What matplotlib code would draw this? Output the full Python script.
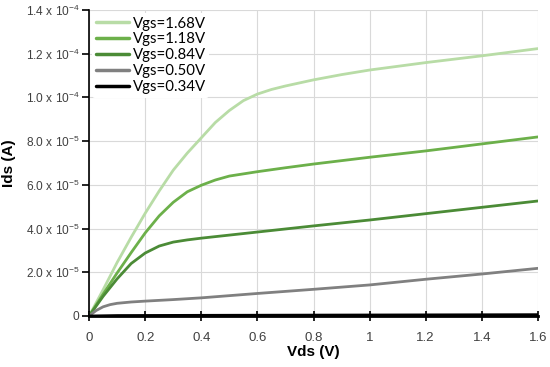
import matplotlib.pyplot as plt

# Vds sample points (V) and Ids (A) for each gate voltage
vds_168 = [0, 0.05, 0.1, 0.15, 0.2, 0.25, 0.3, 0.35, 0.4, 0.45, 0.5, 0.55, 0.6, 0.65,
           0.7, 0.8, 0.9, 1.0, 1.2, 1.4, 1.6]
ids_168 = [0, 1.2e-5, 2.45e-5, 3.6e-5, 4.7e-5, 5.72e-5, 6.67e-5, 7.45e-5, 8.15e-5,
           8.85e-5, 9.4e-5, 9.85e-5, 1.015e-4, 1.036e-4, 1.052e-4, 1.08e-4, 1.104e-4,
           1.125e-4, 1.159e-4, 1.19e-4, 1.223e-4]

vds_118 = [0, 0.05, 0.1, 0.15, 0.2, 0.25, 0.3, 0.35, 0.4, 0.45, 0.5, 0.6, 0.7, 0.8,
           1.0, 1.2, 1.4, 1.6]
ids_118 = [0, 1.0e-5, 1.97e-5, 2.9e-5, 3.8e-5, 4.58e-5, 5.2e-5, 5.68e-5, 5.98e-5,
           6.22e-5, 6.4e-5, 6.6e-5, 6.78e-5, 6.95e-5, 7.26e-5, 7.55e-5, 7.87e-5, 8.19e-5]

vds_084 = [0, 0.05, 0.1, 0.15, 0.2, 0.25, 0.3, 0.35, 0.4, 0.5, 0.6, 0.8, 1.0, 1.2,
           1.4, 1.6]
ids_084 = [0, 0.9e-5, 1.7e-5, 2.4e-5, 2.88e-5, 3.2e-5, 3.38e-5, 3.48e-5, 3.56e-5,
           3.7e-5, 3.84e-5, 4.12e-5, 4.39e-5, 4.68e-5, 4.97e-5, 5.26e-5]

vds_050 = [0, 0.025, 0.05, 0.075, 0.1, 0.15, 0.2, 0.3, 0.4, 0.6, 0.8, 1.0, 1.2, 1.4, 1.6]
ids_050 = [0, 0.25e-5, 0.42e-5, 0.52e-5, 0.58e-5, 0.64e-5, 0.68e-5, 0.75e-5, 0.83e-5,
           1.03e-5, 1.22e-5, 1.42e-5, 1.68e-5, 1.92e-5, 2.18e-5]

vds_034 = [0, 0.1, 0.4, 0.8, 1.2, 1.6]
ids_034 = [0, 0.02e-5, 0.03e-5, 0.04e-5, 0.05e-5, 0.06e-5]

x_ticks = [0, 0.2, 0.4, 0.6, 0.8, 1.0, 1.2, 1.4, 1.6]
x_labels = ["0", "0.2", "0.4", "0.6", "0.8", "1", "1.2", "1.4", "1.6"]
y_ticks = [0, 2e-5, 4e-5, 6e-5, 8e-5, 1.0e-4, 1.2e-4, 1.4e-4]
y_labels = ["0", r"2.0 x 10$^{-5}$", r"4.0 x 10$^{-5}$", r"6.0 x 10$^{-5}$",
            r"8.0 x 10$^{-5}$", r"1.0 x 10$^{-4}$", r"1.2 x 10$^{-4}$", r"1.4 x 10$^{-4}$"]

plt.rcParams["font.family"] = ["Liberation Sans", "DejaVu Sans"]
plt.rcParams["mathtext.fontset"] = "custom"
plt.rcParams["mathtext.rm"] = "Liberation Sans"

fig = plt.figure(figsize=(5.5, 3.67), dpi=100)
ax = fig.add_axes([0.162, 0.139, 0.816, 0.834])

series = [
    (vds_168, ids_168, "#b8dca6", "Vgs=1.68V"),
    (vds_118, ids_118, "#6cb04a", "Vgs=1.18V"),
    (vds_084, ids_084, "#4b8b36", "Vgs=0.84V"),
    (vds_050, ids_050, "#808080", "Vgs=0.50V"),
    (vds_034, ids_034, "#000000", "Vgs=0.34V"),
]
for xs, ys, col, lab in series:
    ax.plot(xs, ys, color=col, lw=2, label=lab, solid_capstyle="round",
            solid_joinstyle="round")

ax.set_xlim(0, 1.6)
ax.set_ylim(0, 1.4e-4)
ax.set_xticks(x_ticks)
ax.set_xticklabels(x_labels, fontsize=9.5, color="#404040")
ax.set_yticks(y_ticks)
ax.set_yticklabels(y_labels, fontsize=8.6, color="#404040")
ax.grid(True, color="#d9d9d9", lw=0.8)
ax.set_axisbelow(True)

for s in ["top", "right"]:
    ax.spines[s].set_visible(False)
ax.spines["left"].set_linewidth(1.2)
ax.spines["bottom"].set_linewidth(2)
ax.tick_params(axis="x", direction="inout", length=7, width=1.2, pad=8)
ax.tick_params(axis="y", direction="out", length=5, width=1.2, pad=2)

ax.set_xlabel("Vds (V)", fontsize=11, fontweight="bold", labelpad=1)
ax.set_ylabel("Ids (A)", fontsize=11, fontweight="bold", labelpad=7)

leg = ax.legend(loc="upper left", frameon=True, handlelength=2.2,
                handletextpad=0.25, labelspacing=0.12, borderaxespad=0.2,
                borderpad=0.25, prop={"family": "Lato", "size": 10.8})
leg.get_frame().set_facecolor("white")
leg.get_frame().set_edgecolor("none")
leg.get_frame().set_alpha(1)
for line in leg.get_lines():
    line.set_linewidth(2.5)

fig.savefig("out.png", dpi=100, facecolor="white")
